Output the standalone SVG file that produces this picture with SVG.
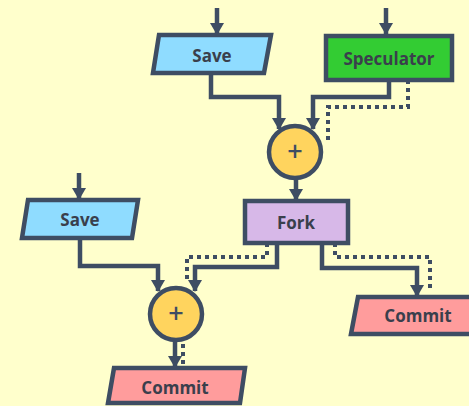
<svg xmlns="http://www.w3.org/2000/svg" width="469" height="406" viewBox="0 0 469 406">
  <style>
    .shape { stroke: #3e4d63; stroke-width: 4.5; stroke-linejoin: miter; }
    .save { fill: #8fdcff; }
    .spec { fill: #33cc33; }
    .fork { fill: #d7b8e8; }
    .commit { fill: #ff9c9c; }
    .sum { fill: #ffd45e; }
    .label { font-family: "Open Sans", "Noto Sans", sans-serif; font-weight: bold; font-size: 17px; fill: #3a3f4c; text-anchor: middle; dominant-baseline: central; }
    .plus { font-family: "Open Sans", sans-serif; font-weight: 600; font-size: 27px; fill: #3e4d63; text-anchor: middle; dominant-baseline: central; }
    .wire { fill: none; stroke: #3e4d63; stroke-width: 4.5; }
    .dots { fill: none; stroke: #3e4d63; stroke-width: 4; stroke-dasharray: 4 4; }
  </style>
  <defs>
    <marker id="arrow" viewBox="0 0 12 14" refX="11" refY="7" markerWidth="12" markerHeight="14" markerUnits="userSpaceOnUse" orient="auto">
      <path d="M0,0 L12,7 L0,14 Z" fill="#3e4d63"/>
    </marker>
  </defs>
  <rect width="469" height="406" fill="#ffffcc"/>

  <g id="connectors">
    <!-- inputs from above -->
    <path class="wire" d="M217,8 V34" marker-end="url(#arrow)"/>
    <path class="wire" d="M386,8 V34" marker-end="url(#arrow)"/>
    <path class="wire" d="M79,173 V199" marker-end="url(#arrow)"/>
    <!-- top merge -->
    <path class="wire" d="M211,73 V97 H279 V129" marker-end="url(#arrow)"/>
    <path class="wire" d="M389,80 V97 H313 V129" marker-end="url(#arrow)"/>
    <path class="dots" d="M408,80 V107 H328 V140"/>
    <!-- sum to fork -->
    <path class="wire" d="M296,180 V200" marker-end="url(#arrow)"/>
    <!-- fork to lower merge -->
    <path class="wire" d="M80,238 V266 H158 V291" marker-end="url(#arrow)"/>
    <path class="wire" d="M277,243 V267 H195 V291" marker-end="url(#arrow)"/>
    <path class="dots" d="M267,243 V257 H187 V283"/>
    <!-- fork to right commit -->
    <path class="wire" d="M322,243 V268 H417 V296" marker-end="url(#arrow)"/>
    <path class="dots" d="M335,243 V257 H430 V290"/>
    <!-- lower sum to commit -->
    <path class="wire" d="M175,342 V367" marker-end="url(#arrow)"/>
    <path class="dots" d="M183,344 V364"/>
  </g>

  <g id="save-top">
    <polygon class="shape save" points="159,35 271,35 264,73 153,73"/>
    <text class="label" x="212" y="55">Save</text>
  </g>
  <g id="speculator">
    <rect class="shape spec" x="326" y="36" width="126" height="44"/>
    <text class="label" x="389" y="58">Speculator</text>
  </g>
  <g id="sum-top">
    <circle class="shape sum" cx="295" cy="152" r="26"/>
    <text class="plus" x="295" y="150">+</text>
  </g>
  <g id="fork">
    <rect class="shape fork" x="245" y="201" width="103" height="42"/>
    <text class="label" x="296" y="222">Fork</text>
  </g>
  <g id="save-left">
    <polygon class="shape save" points="28,200 138,200 132,238 22,238"/>
    <text class="label" x="80" y="219">Save</text>
  </g>
  <g id="sum-bottom">
    <circle class="shape sum" cx="176" cy="314" r="26"/>
    <text class="plus" x="176" y="312">+</text>
  </g>
  <g id="commit-right">
    <polygon class="shape commit" points="358,297 475,297 475,334 351,334"/>
    <text class="label" x="418" y="315">Commit</text>
  </g>
  <g id="commit-bottom">
    <polygon class="shape commit" points="114,368 245,368 240,403 108,403"/>
    <text class="label" x="175" y="387">Commit</text>
  </g>
</svg>
